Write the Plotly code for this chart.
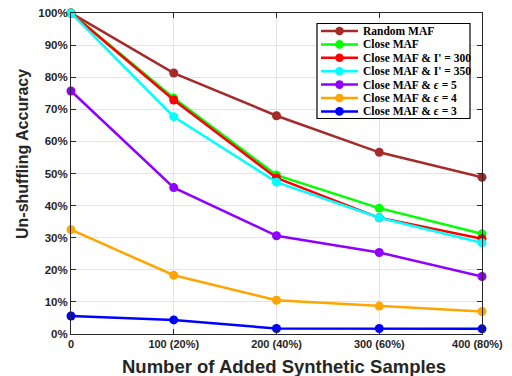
import plotly.graph_objects as go

x_vals = [0, 100, 200, 300, 400]
x_ticktext = ["0", "100 (20%)", "200 (40%)", "300 (60%)", "400 (80%)"]
y_ticks = [0, 10, 20, 30, 40, 50, 60, 70, 80, 90, 100]

random_maf = [100, 81.3, 68.0, 56.6, 48.8]
close_maf = [100, 73.5, 49.5, 39.2, 31.2]
close_i300 = [100, 72.9, 48.6, 36.2, 29.7]
close_i350 = [100, 67.7, 47.3, 36.2, 28.4]
close_eps5 = [75.7, 45.6, 30.6, 25.4, 17.9]
close_eps4 = [32.5, 18.3, 10.5, 8.7, 7.0]
close_eps3 = [5.6, 4.4, 1.7, 1.7, 1.6]

series = [
    ("Random MAF", random_maf, "#a52a2a"),
    ("Close MAF", close_maf, "#00ff00"),
    ("Close MAF & I' = 300", close_i300, "#ff0000"),
    ("Close MAF & I' = 350", close_i350, "#00ffff"),
    ("Close MAF & <i>ϵ</i> = 5", close_eps5, "#8f00ff"),
    ("Close MAF & <i>ϵ</i> = 4", close_eps4, "#ffa500"),
    ("Close MAF & <i>ϵ</i> = 3", close_eps3, "#0000ff"),
]

# page body has an 8px default margin: the figure is offset by it
OFF = 8
W, H = 512 - OFF, 376 - OFF
# plot area in screen pixels
SX0, SX1, SY0, SY1 = 71, 482, 13, 334
ML, MR, MT, MB = SX0 - OFF, W - (SX1 - OFF), SY0 - OFF, H - (SY1 - OFF)
PW, PH = W - ML - MR, H - MT - MB


def px_x(p):
    return (p - SX0) / PW


def px_y(p):
    return (SY1 - p) / PH


fig = go.Figure()
for name, vals, col in series:
    fig.add_trace(go.Scatter(
        x=x_vals, y=vals, name=name, mode="lines+markers",
        line=dict(color=col, width=2.5),
        marker=dict(color=col, size=9),
        cliponaxis=False, showlegend=False,
    ))

# custom compact legend (layout only)
shapes = []
annotations = []
box_l, box_r, box_t, box_b = 317, 470, 23.5, 118.5
shapes.append(dict(type="rect", xref="paper", yref="paper",
                   x0=px_x(box_l), x1=px_x(box_r), y0=px_y(box_b), y1=px_y(box_t),
                   line=dict(color="black", width=1.2), fillcolor="white", layer="above"))
row0, row_gap = 31, 13.4
for i, (name, vals, col) in enumerate(series):
    cy = row0 + i * row_gap
    shapes.append(dict(type="line", xref="paper", yref="paper",
                       x0=px_x(321), x1=px_x(358), y0=px_y(cy), y1=px_y(cy),
                       line=dict(color=col, width=2.5), layer="above"))
    r = 4.3
    shapes.append(dict(type="circle", xref="paper", yref="paper",
                       x0=px_x(339.5 - r), x1=px_x(339.5 + r),
                       y0=px_y(cy + r), y1=px_y(cy - r),
                       line=dict(color=col, width=0), fillcolor=col, layer="above"))
    annotations.append(dict(xref="paper", yref="paper", x=px_x(361), y=px_y(cy),
                            xanchor="left", yanchor="middle", showarrow=False,
                            text=f"<b>{name}</b>",
                            font=dict(family="Liberation Serif", size=11.5, color="black")))

axis_col = "#262626"
annotations.append(dict(xref="paper", yref="paper", x=px_x(284), y=px_y(366),
                        xanchor="center", yanchor="middle", showarrow=False,
                        text="<b>Number of Added Synthetic Samples</b>",
                        font=dict(family="Liberation Sans", size=18.5, color=axis_col)))
annotations.append(dict(xref="paper", yref="paper", x=px_x(22), y=px_y(154),
                        xanchor="center", yanchor="middle", showarrow=False, textangle=-90,
                        text="<b>Un-shuffling Accuracy</b>",
                        font=dict(family="Liberation Sans", size=16, color=axis_col)))

# the last x label is padded on its right so that it stays inside the visible page
x_labels = [f"<b>{t}</b>" for t in x_ticktext]
x_labels[-1] = x_labels[-1] + "&nbsp;&nbsp;&nbsp;"

fig.update_layout(
    width=W, height=H,
    margin=dict(l=ML, r=MR, t=MT, b=MB),
    paper_bgcolor="white", plot_bgcolor="white",
    showlegend=False,
    shapes=shapes, annotations=annotations,
    font=dict(family="Liberation Sans", color=axis_col),
)
fig.update_xaxes(
    range=[0, 400], tickvals=x_vals, ticktext=x_labels,
    automargin=False, ticklabeloverflow="allow",
    showgrid=True, gridcolor="#e3e3e3", gridwidth=1,
    showline=True, linecolor=axis_col, linewidth=1, mirror="ticks",
    ticks="inside", ticklen=5, tickcolor=axis_col,
    tickfont=dict(family="Liberation Sans", size=11, color=axis_col),
    zeroline=False,
)
fig.update_yaxes(
    range=[0, 100], tickvals=y_ticks, ticktext=[f"<b>{v}%</b>" for v in y_ticks],
    automargin=False, ticklabeloverflow="allow",
    showgrid=True, gridcolor="#e3e3e3", gridwidth=1,
    showline=True, linecolor=axis_col, linewidth=1, mirror="ticks",
    ticks="inside", ticklen=5, tickcolor=axis_col,
    tickfont=dict(family="Liberation Sans", size=11.5, color=axis_col),
    zeroline=False,
)

fig.write_html("out.html")
